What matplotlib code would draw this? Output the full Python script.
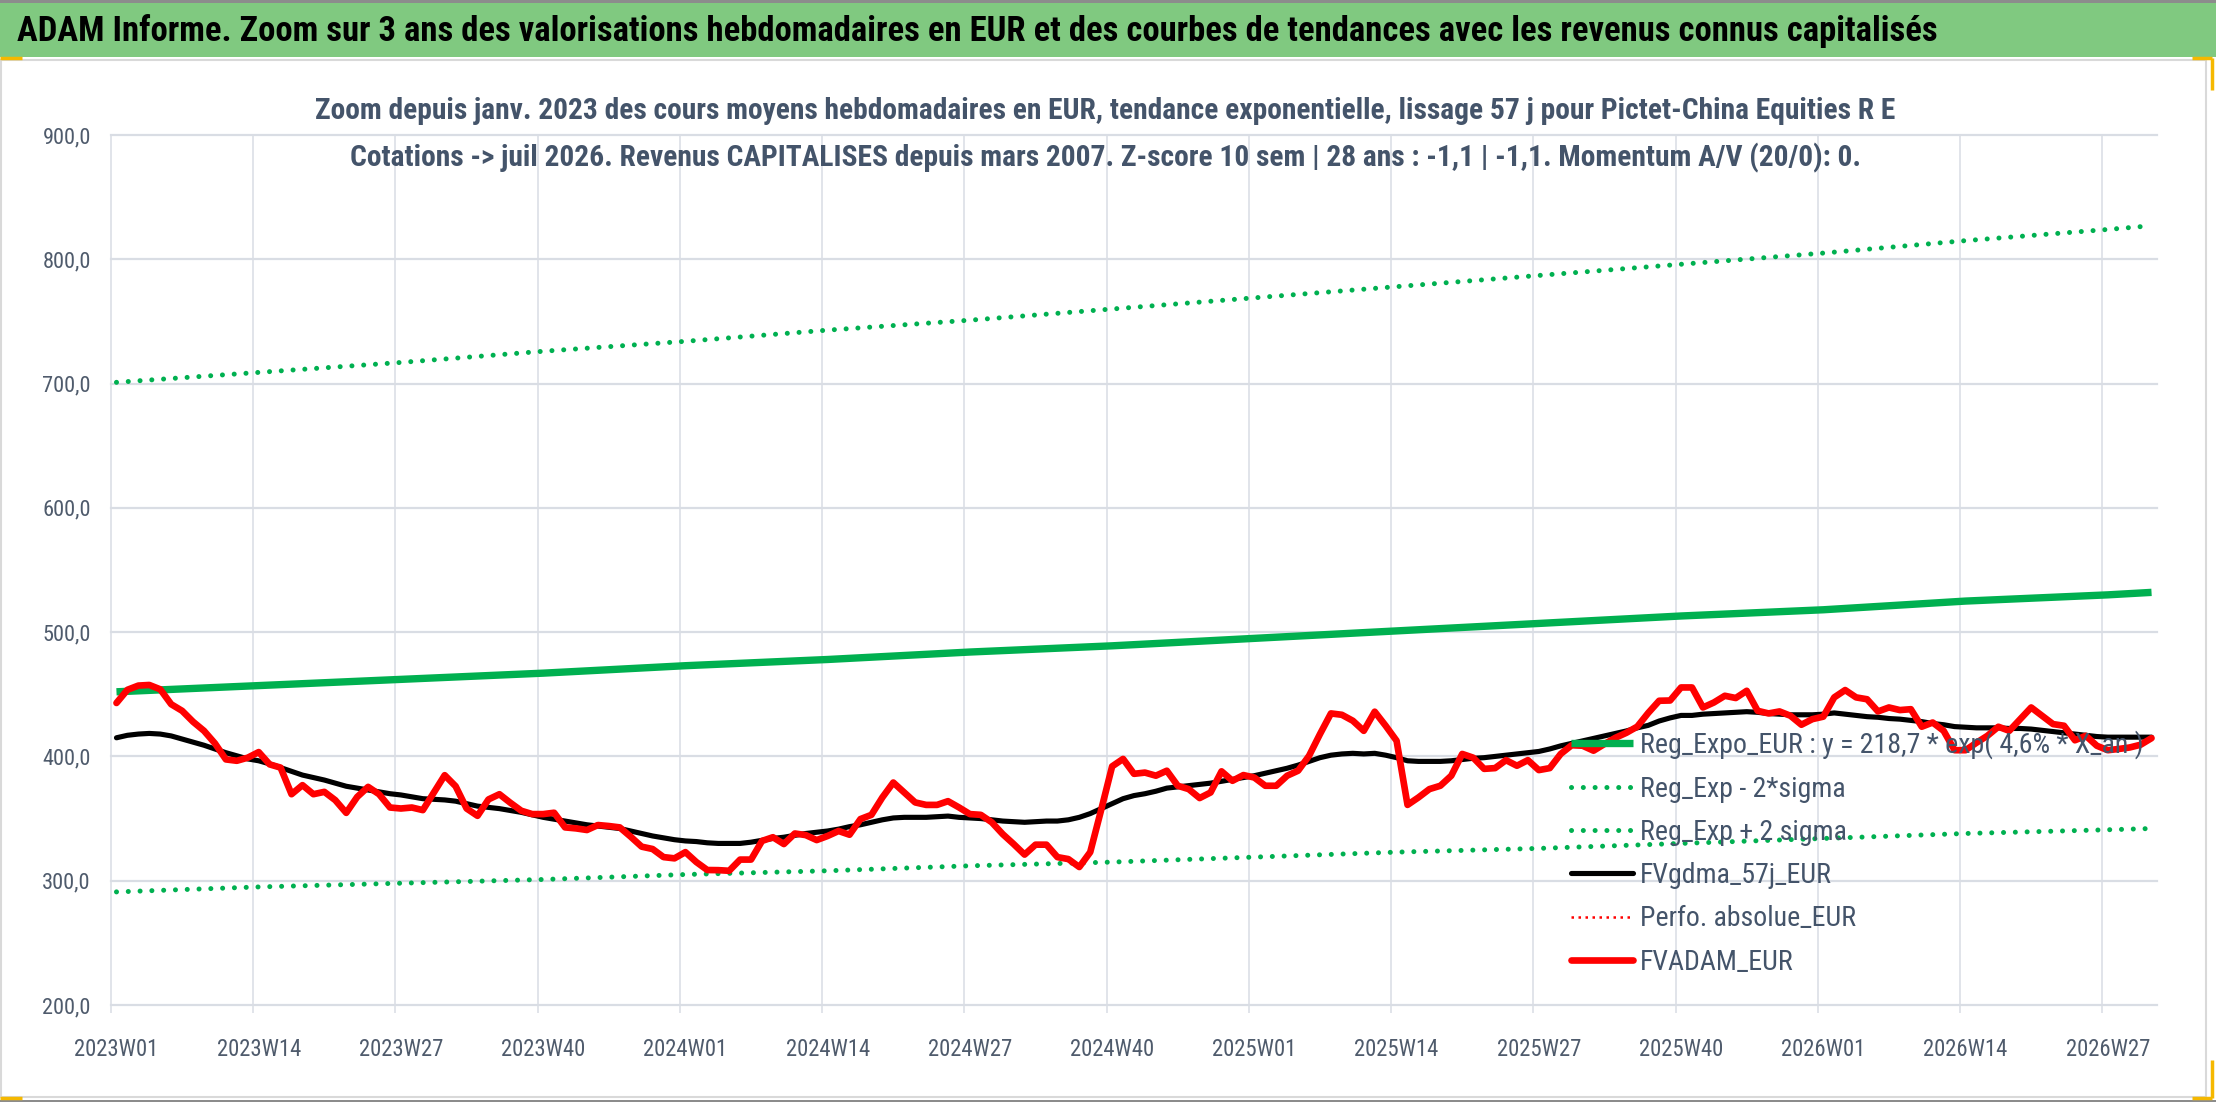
import matplotlib
matplotlib.use('Agg')
import matplotlib.pyplot as plt
from matplotlib import font_manager as fm
from matplotlib.font_manager import FontProperties
from matplotlib.textpath import TextPath
from matplotlib.patches import Rectangle
from matplotlib.lines import Line2D

# ---------------- data ----------------
TITLE = ("ADAM Informe. Zoom sur 3 ans des valorisations hebdomadaires en EUR "
         "et des courbes de tendances avec les revenus connus capitalisés")
SUB1 = ("Zoom depuis janv. 2023 des cours moyens hebdomadaires en EUR, tendance "
        "exponentielle, lissage 57 j pour Pictet-China Equities R E")
SUB2 = ("Cotations -> juil 2026. Revenus CAPITALISES depuis mars 2007. Z-score 10 sem | "
        "28 ans : -1,1 | -1,1. Momentum A/V (20/0): 0.")

weeks = [f"{y}W{w:02d}" for y, n in ((2023, 52), (2024, 52), (2025, 52), (2026, 31))
         for w in range(1, n + 1)]

tick_labels = ["2023W01", "2023W14", "2023W27", "2023W40", "2024W01", "2024W14", "2024W27",
               "2024W40", "2025W01", "2025W14", "2025W27", "2025W40", "2026W01", "2026W14",
               "2026W27"]

fvadam_eur = [
    443, 453.6, 457, 457.5, 454, 442, 436.7, 427.9, 420.6, 410.5, 397.6, 396.5, 399, 403.5,
    393.6, 391, 369.6, 376.9, 369.6, 371.5, 364.8, 354.6, 367.4, 375.5, 369.6, 358.9, 358.1,
    358.9, 356.8, 370.9, 384.9, 376, 358.1, 352.2, 365.4, 369.6, 362.7, 356.3, 353.6, 353.6,
    354.7, 342.9, 342.1, 340.8, 344.8, 344, 342.9, 335.4, 327.4,
    325.5, 319, 318, 323, 315, 308.6, 308.5, 308, 317, 317, 332, 335, 329.5, 338, 336.7,
    332.7, 336, 340, 337, 349.6, 353, 367, 379, 371, 363, 361, 361, 364, 359, 353.6, 353,
    347, 337.5, 329.5, 321, 329, 329, 319, 317.4, 311, 323, 357, 392, 398, 386, 387, 384.5,
    388.5, 376.4, 373.7, 366.5, 371, 388, 380.4, 385, 383, 376.4, 376.4, 384.5, 388.5,
    400.5, 418, 434.6, 433.5, 428.7, 420.6, 436, 424.7, 412.6, 361, 367, 373.7, 376.4,
    384.5, 402, 399, 390, 390.6, 397, 392.5, 397, 389, 390.6, 402, 409, 408.6, 404.6, 410,
    415, 419, 424, 435, 444.8, 445, 455.5,
    455.5, 439.4, 443.4, 448.8, 447, 452.8, 436.7, 434.6, 436.2, 432.7, 425.5, 430, 432,
    447.5, 453.4, 447.5, 446, 436.2, 439.4, 437.3, 438, 423.9, 427.3, 420.6, 405, 405, 411,
    416.6, 423.9, 420.6, 430, 439.4, 432.7, 426, 424.7, 413, 416.6, 408.6, 405, 406, 407.2,
    409.4, 414.7,
]

fvgdma_57j_eur = [
    415, 417, 418, 418.5, 418, 416.5, 414, 411.5, 409, 406, 403, 400.5, 398, 396.5, 394, 391,
    388, 385, 383, 381, 378.5, 376, 374.5, 373, 371.5, 370, 369, 367.5, 366, 365.5, 365, 364,
    362, 360, 359, 358, 356.5, 355, 353, 351, 349.5, 348, 346.5, 345, 344, 343, 342, 340, 338,
    336, 334.5, 333, 332, 331.5, 330.5, 330, 330, 330, 331, 332.5, 334, 335, 336.5, 338, 339,
    340, 341.5, 343.5, 345, 347, 349, 350.5, 351, 351, 351, 351.5, 352, 351, 350.5, 350, 349,
    348, 347.5, 347, 347.5, 348, 348, 349, 351, 354, 358, 362, 366, 368.5, 370, 372, 374.5,
    375.5, 376.5, 377.5, 378.5, 380, 381.5, 383, 384.5, 386.5, 388.5, 390.5, 393, 396, 399,
    401, 402, 402.5, 402, 402.5, 401, 399, 396.5, 396, 396, 396, 396.5, 397.5, 398.5, 399,
    400, 401, 402, 403, 404, 406, 408.5, 410.5, 412.5, 414.5, 416.5, 418.5, 420.5, 423, 425,
    428.5, 431, 433, 433, 434, 434.5, 435, 435.5, 436, 435.5, 434.5, 434, 433.5, 433.5, 433.5,
    434, 435, 434, 433, 432, 431.5, 430.5, 430, 429, 428, 426.5, 425.5, 424, 423.5, 423, 423,
    423, 422.5, 422.5, 422, 421, 420, 419, 418, 417, 416, 415.5, 415.5, 415.5, 415.5, 415.5,
]

trend_idx = [0, 13, 26, 39, 52, 65, 78, 91, 104, 117, 130, 143, 156, 169, 182, 186]
reg_expo_eur = [452, 457, 462, 467, 473, 478, 484, 489, 495, 501, 507, 513, 518, 525, 530, 532]
reg_exp_minus_2sigma = [291, 295, 298, 301, 305, 308, 312, 315, 319, 323, 326, 330, 334, 338, 341, 342]
reg_exp_plus_2sigma = [701, 709, 717, 726, 734, 743, 751, 760, 769, 778, 787, 796, 805, 815, 824, 827]

legend_labels = ["Reg_Expo_EUR : y = 218,7 * exp( 4,6% * X_an )", "Reg_Exp - 2*sigma",
                 "Reg_Exp + 2 sigma", "FVgdma_57j_EUR", "Perfo. absolue_EUR", "FVADAM_EUR"]
y_ticks = [200, 300, 400, 500, 600, 700, 800, 900]

# ---------------- fonts ----------------
W, H, DPI = 2216, 1102, 100
ALLOWED = ('DejaVu Sans', 'Liberation Sans', 'Noto Sans', 'Roboto', 'Open Sans', 'Lato',
           'Inter')
EXCLUDE = ('Mono', 'CJK', 'Serif', 'Display', 'Symbols', 'Math', 'Emoji')


def ok_name(nm):
    return nm.startswith(ALLOWED) and not any(e in nm for e in EXCLUDE)


def ratio(path, text, bold_txt=False):
    prop = FontProperties(fname=path)
    w = TextPath((0, 0), text, size=100, prop=prop).get_extents().width
    c = TextPath((0, 0), "E", size=100, prop=prop).get_extents().height
    return w / c


entries = [e for e in fm.fontManager.ttflist if ok_name(e.name)]
regular = [e for e in entries if e.style == 'normal' and e.weight in (400, 'normal', 'regular')]
TARGET = 503 / 20.0          # legend text width / cap height in the reference
best = None
for e in regular:
    try:
        r = ratio(e.fname, legend_labels[0])
    except Exception:
        continue
    if best is None or abs(r - TARGET) < best[0]:
        best = (abs(r - TARGET), e)

if best is not None:
    reg_e = best[1]
    REG_PATH = reg_e.fname
    bold_c = [e for e in entries if e.name == reg_e.name and e.style == 'normal'
              and e.stretch == reg_e.stretch and e.weight in (700, 'bold')]
    BOLD_PATH = bold_c[0].fname if bold_c else REG_PATH
    P_REG = FontProperties(fname=REG_PATH)
    P_BOLD = FontProperties(fname=BOLD_PATH)
    if not bold_c:
        P_BOLD.set_weight('bold')
else:
    P_REG = FontProperties(family='DejaVu Sans')
    P_BOLD = FontProperties(family='DejaVu Sans', weight='bold')

GRID = '#D9DDE4'
SLATE = '#44546A'
TICKC = '#4F5B6C'
RED = '#FF0000'
GREEN = '#00B050'
BAND = '#80C980'

fig = plt.figure(figsize=(W / DPI, H / DPI), dpi=DPI)
fig.patch.set_facecolor('white')


def fx(px):
    return px / W


def fy(py):
    return 1 - py / H


# decorations: top grey line, green title band, chart border, selection handles
fig.patches.append(Rectangle((0, fy(3)), 1, 3 / H, transform=fig.transFigure,
                             facecolor='#8C8C8C', edgecolor='none', zorder=0))
fig.patches.append(Rectangle((0, fy(57)), 1, 54 / H, transform=fig.transFigure,
                             facecolor=BAND, edgecolor='none', zorder=0))
fig.patches.append(Rectangle((fx(1), fy(1097)), fx(2205), (1097 - 60) / H,
                             transform=fig.transFigure, facecolor='none',
                             edgecolor='#D9D9D9', lw=1.5, zorder=0))
fig.patches.append(Rectangle((0, fy(1102)), 1, 2 / H, transform=fig.transFigure,
                             facecolor='#8C8C8C', edgecolor='none', zorder=0))
GOLD = '#F5B800'
for (x0, y0, x1, y1) in [(0, 58, 22, 58), (2192, 58, 2212, 58), (2212, 58, 2212, 90),
                         (2212, 1060, 2212, 1098), (2192, 1098, 2212, 1098),
                         (0, 1098, 22, 1098)]:
    fig.add_artist(Line2D([fx(x0), fx(x1)], [fy(y0), fy(y1)], transform=fig.transFigure,
                          color=GOLD, lw=2.5, solid_capstyle='butt'))

renderer = fig.canvas.get_renderer()


def fit(t, target):
    bb = t.get_window_extent(renderer)
    t.set_fontsize(t.get_fontsize() * target / bb.width)
    return t.get_fontsize()


t_title = fig.text(fx(17), fy(31), TITLE, ha='left', va='center', fontproperties=P_BOLD,
                   color='black')
t_title.set_fontsize(20)
fit(t_title, 1912)

t_s1 = fig.text(fx(1105), fy(111), SUB1, ha='center', va='center', fontproperties=P_BOLD,
                color=SLATE)
t_s1.set_fontsize(16)
fs_sub = fit(t_s1, 1578)
t_s2 = fig.text(fx(1105), fy(158), SUB2, ha='center', va='center', fontproperties=P_BOLD,
                color=SLATE)
t_s2.set_fontsize(fs_sub)

# font sizes for ticks and legend
probe = fig.text(0, 0, "2023W01", fontproperties=P_REG)
probe.set_fontsize(12)
fs_xt = fit(probe, 84)
probe.set_text("200,0")
probe.set_fontsize(12)
fs_yt = fit(probe, 48)
probe.set_text(legend_labels[0])
probe.set_fontsize(12)
fs_leg = fit(probe, 503)
probe.remove()

# ---------------- axes ----------------
L, R, T, B = 111, 2157, 135, 1005
ax = fig.add_axes([fx(L), fy(B), fx(R - L), (B - T) / H])
ax.set_facecolor('none')
for s in ax.spines.values():
    s.set_visible(False)

n = len(weeks)
x = list(range(n))
ax.set_xlim(-0.5, n - 0.5)
ax.set_ylim(200, 900)

for v in y_ticks:
    ax.axhline(v, color=GRID, lw=1.6, zorder=0.5, clip_on=False)
tick_pos = [weeks.index(lbl) for lbl in tick_labels]
for p in tick_pos:
    ax.axvline(p - 0.5, color=GRID, lw=1.1, zorder=0.4, clip_on=False)

P_XT = P_REG.copy()
P_XT.set_size(fs_xt)
P_YT = P_REG.copy()
P_YT.set_size(fs_yt)
ax.set_xticks([p - 0.5 for p in tick_pos])
ax.set_xticklabels([])
ax.set_xticks(tick_pos, minor=True)
ax.set_xticklabels(tick_labels, minor=True, fontproperties=P_XT)
ax.tick_params(axis='x', which='major', direction='out', length=6, width=1.1, color=GRID)
ax.tick_params(axis='x', which='minor', length=0, pad=24, labelcolor=TICKC)
ax.set_yticks(y_ticks)
ax.set_yticklabels([f"{v:.1f}".replace('.', ',') for v in y_ticks], fontproperties=P_YT)
ax.tick_params(axis='y', length=0, pad=14.5, labelcolor=TICKC)

DOT = (0, (0.01, 2.35))
h_reg, = ax.plot(trend_idx, reg_expo_eur, color=GREEN, lw=5.3, solid_capstyle='butt', zorder=2)
h_lo, = ax.plot(trend_idx, reg_exp_minus_2sigma, color=GREEN, lw=3.6,
                linestyle=DOT, dash_capstyle='round', zorder=2)
h_hi, = ax.plot(trend_idx, reg_exp_plus_2sigma, color=GREEN, lw=3.6,
                linestyle=DOT, dash_capstyle='round', zorder=2)
h_ma, = ax.plot(x, fvgdma_57j_eur, color='black', lw=3.7, solid_joinstyle='round',
                solid_capstyle='round', zorder=3)
h_pa, = ax.plot([], [], color=RED, lw=1.8, linestyle=(0, (1, 1.8)), zorder=3)
h_fv, = ax.plot(x, fvadam_eur, color=RED, lw=4.8, solid_joinstyle='round',
                solid_capstyle='round', zorder=4)

handles = [h_reg, h_lo, h_hi, h_ma, h_pa, h_fv]
leg_fs_px = fs_leg * DPI / 72
ROW0, ROWSTEP = 745, 43.4
P_LEG = P_REG.copy()
P_LEG.set_size(fs_leg)


def make_legend(ls, top_px):
    lg = ax.legend(handles, legend_labels, loc='upper left',
                   bbox_to_anchor=(fx(1571), fy(top_px)),
                   bbox_transform=fig.transFigure, frameon=False, borderpad=0,
                   borderaxespad=0, handlelength=62 / leg_fs_px,
                   handletextpad=7 / leg_fs_px, labelspacing=ls,
                   prop=P_LEG, labelcolor=SLATE)
    lg.set_zorder(5)
    return lg


ls = 0.5
top = ROW0 - 0.6 * leg_fs_px
for _ in range(3):
    leg = make_legend(ls, top)
    fig.canvas.draw()
    cy = [H - t.get_window_extent(renderer).y0 - t.get_window_extent(renderer).height / 2
          for t in leg.get_texts()]
    step = (cy[-1] - cy[0]) / (len(cy) - 1)
    ls += (ROWSTEP - step) / leg_fs_px
    top += ROW0 - cy[0]
    leg.remove()
leg = make_legend(ls, top)

fig.savefig('out.png', dpi=DPI)
